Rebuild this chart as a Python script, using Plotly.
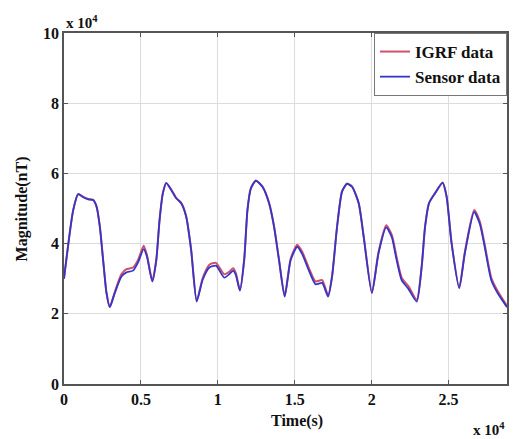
import plotly.graph_objects as go

# Time in seconds
time_s = [0, 602, 925, 1249, 1573, 1896, 2116, 2330, 2543, 2763, 2977, 3301, 3734, 4058,
          4485, 4809, 5178, 5391, 5741, 6000, 6213, 6427, 6647, 6971, 7294, 7618, 7941,
          8265, 8627, 9015, 9449, 9883, 10420, 10744, 11002, 11177, 11436, 11714, 11928,
          12148, 12471, 12899, 13332, 13656, 13979, 14348, 14736, 15164, 15487, 15921,
          16354, 16782, 17170, 17429, 17753, 18076, 18400, 18723, 19157, 19480, 20016,
          20451, 20949, 21311, 21635, 21959, 22393, 22930, 23254, 23474, 23733, 24121,
          24613, 24872, 25196, 25694, 26063, 26665, 27034, 27357, 27784, 28218, 28800]

# Sensor magnitude (nT)
sensor_nT = [30000, 49600, 54100, 53200, 52600, 52400, 50500, 44800, 35300, 25900, 21900,
             25900, 30600, 31800, 32300, 34600, 38400, 36300, 29200, 35300, 46700, 54300,
             57200, 55300, 52900, 51500, 47700, 38200, 23500, 29700, 33200, 33700, 30300,
             31300, 32300, 31000, 26600, 35300, 49600, 55700, 57900, 56200, 51500, 44800,
             35300, 24900, 35300, 39100, 37000, 32300, 28400, 28800, 24900, 30600, 44800,
             54800, 57000, 56200, 51500, 42000, 25900, 37300, 44600, 41800, 35100, 29500,
             27100, 23500, 33400, 44800, 51500, 54300, 57300, 53400, 40100, 27300, 37300,
             49000, 45600, 38900, 29500, 25700, 21900]

# IGRF magnitude (nT)
igrf_nT = [30000, 49600, 54100, 53300, 52700, 52500, 50600, 44900, 35400, 26000, 22000,
           26200, 31300, 32700, 33200, 35300, 39400, 36800, 29400, 35400, 46800, 54400,
           57300, 55400, 53000, 51600, 47800, 38300, 23700, 30200, 34000, 34500, 31300,
           32000, 33000, 31500, 26800, 35400, 49700, 55800, 58000, 56300, 51600, 44900,
           35400, 25100, 35700, 39700, 37700, 33000, 29200, 29600, 25300, 30800, 44900,
           54900, 57100, 56300, 51600, 42200, 26100, 37700, 45200, 42500, 35900, 30200,
           27900, 24000, 33600, 44900, 51600, 54400, 57400, 53500, 40300, 27500, 37700,
           49600, 46300, 39600, 30200, 26300, 22300]

x_tickvals = [0, 5000, 10000, 15000, 20000, 25000]
x_ticktext = ["0", "0.5", "1", "1.5", "2", "2.5"]
y_tickvals = [0, 20000, 40000, 60000, 80000, 100000]
y_ticktext = ["0", "2", "4", "6", "8", "10"]

font_family = "Liberation Serif"

fig = go.Figure()
fig.add_trace(go.Scatter(x=time_s, y=igrf_nT, mode="lines", name="<b>IGRF data</b>",
                         line=dict(color="#d0506a", width=2, shape="spline", smoothing=0.6)))
fig.add_trace(go.Scatter(x=time_s, y=sensor_nT, mode="lines", name="<b>Sensor data</b>",
                         line=dict(color="#3535c8", width=1.8, shape="spline", smoothing=0.6)))

axis_common = dict(showgrid=True, gridcolor="#dcdcdc", gridwidth=1, zeroline=False,
                   showline=True, linecolor="#555555", linewidth=1.5, mirror="ticks",
                   ticks="inside", ticklen=4, tickcolor="#555555",
                   tickfont=dict(family=font_family, size=16, color="#111111"))

fig.update_layout(
    width=513, height=439,
    margin=dict(l=64, r=4, t=33, b=55),
    paper_bgcolor="white", plot_bgcolor="white",
    font=dict(family=font_family, color="#111111"),
    xaxis=dict(range=[0, 28800], tickvals=x_tickvals,
               ticktext=["<b>%s</b>" % t for t in x_ticktext], **axis_common),
    yaxis=dict(range=[0, 100000], tickvals=y_tickvals,
               ticktext=["<b>%s</b>" % t for t in y_ticktext], **axis_common),
    showlegend=True,
    legend=dict(x=1, y=1, xanchor="right", yanchor="top", bgcolor="white",
                bordercolor="#777777", borderwidth=1,
                font=dict(family=font_family, size=17, color="#111111"),
                tracegroupgap=0, itemwidth=30),
    annotations=[
        dict(text="<b>x 10<sup>4</sup></b>", xref="paper", yref="paper", x=0.0, y=1.0,
             xanchor="left", yanchor="bottom", showarrow=False,
             font=dict(family=font_family, size=15, color="#111111")),
        dict(text="<b>x 10<sup>4</sup></b>", xref="paper", yref="paper", x=1.0, y=-0.097,
             xanchor="right", yanchor="top", showarrow=False,
             font=dict(family=font_family, size=15, color="#111111")),
        dict(text="<b>Time(s)</b>", xref="paper", yref="paper", x=0.525, y=-0.074,
             xanchor="center", yanchor="top", showarrow=False,
             font=dict(family=font_family, size=16, color="#111111")),
        dict(text="<b>Magnitude(nT)</b>", xref="paper", yref="paper", x=-0.095, y=0.5,
             xanchor="center", yanchor="middle", textangle=-90, showarrow=False,
             font=dict(family=font_family, size=16, color="#111111")),
    ],
)

fig.write_html("out.html")
